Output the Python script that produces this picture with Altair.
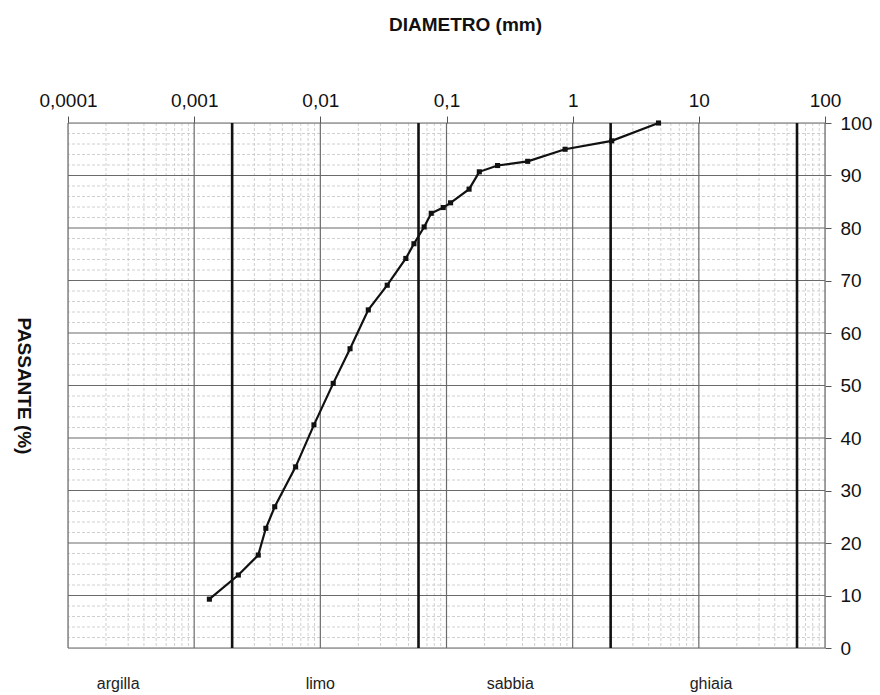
import altair as alt
import pandas as pd

# --- data ---
diametro = [0.00132, 0.00224, 0.00322, 0.0037, 0.00435, 0.00637, 0.0089, 0.01265,
            0.0172, 0.024, 0.0339, 0.0476, 0.0552, 0.0665, 0.0757, 0.0942, 0.1077,
            0.151, 0.182, 0.254, 0.44, 0.871, 2.04, 4.79]
passante = [9.3, 13.9, 17.7, 22.8, 26.9, 34.5, 42.5, 50.4, 57.0, 64.4, 69.1, 74.2,
            77.0, 80.2, 82.8, 83.9, 84.8, 87.4, 90.7, 91.9, 92.7, 95.0, 96.6, 100.0]

decadi = [0.0001, 0.001, 0.01, 0.1, 1, 10, 100]
minori_x = [m * d for d in decadi[:-1] for m in range(2, 10)]
maggiori_y = list(range(0, 101, 10))
minori_y = [v for v in range(0, 101, 2) if v % 10 != 0]
limiti_classi = [0.002, 0.06, 2, 60]
classi = ["argilla", "limo", "sabbia", "ghiaia"]
classi_pos = [0.00025, 0.01, 0.32, 12.5]

W, H = 757, 525
FONT = "Liberation Sans"

xs = alt.Scale(type="log", domain=[0.0001, 100], nice=False)
ys = alt.Scale(domain=[0, 100], nice=False, zero=True)

df = pd.DataFrame({"d": diametro, "p": passante})

minor_v = alt.Chart(pd.DataFrame({"d": minori_x})).mark_rule(
    color="#c4c4c4", strokeWidth=0.8, strokeDash=[3, 2]
).encode(x=alt.X("d:Q", scale=xs, axis=None))

minor_h = alt.Chart(pd.DataFrame({"p": minori_y})).mark_rule(
    color="#c4c4c4", strokeWidth=0.8, strokeDash=[3, 2]
).encode(y=alt.Y("p:Q", scale=ys, axis=None))

major_v = alt.Chart(pd.DataFrame({"d": decadi})).mark_rule(
    color="#6a6a6a", strokeWidth=1.2
).encode(x=alt.X("d:Q", scale=xs, axis=alt.Axis(
    orient="top", values=decadi, grid=False, domain=False,
    tickSize=7, tickColor="#555", labelPadding=6, labelFlush=False,
    labelExpr="replace(toString(datum.value), '.', ',')",
    labelFont=FONT, labelFontSize=19, labelColor="#111",
    title="DIAMETRO (mm)", titleFont=FONT, titleFontSize=19,
    titleFontWeight="bold", titleColor="#111", titlePadding=57, titleX=397)))

major_h = alt.Chart(pd.DataFrame({"p": maggiori_y})).mark_rule(
    color="#6a6a6a", strokeWidth=1.2
).encode(y=alt.Y("p:Q", scale=ys, axis=alt.Axis(
    orient="right", values=maggiori_y, grid=False, domain=False,
    tickSize=6, tickColor="#555", labelPadding=9, labelFlush=False,
    labelFont=FONT, labelFontSize=19, labelColor="#111", title=None)))

left_title = alt.Chart(pd.DataFrame({"p": [0]})).mark_rule(opacity=0).encode(
    y=alt.Y("p:Q", scale=ys, axis=alt.Axis(
        orient="left", labels=False, ticks=False, domain=False, grid=False,
        title="PASSANTE (%)", titleFont=FONT, titleFontSize=19,
        titleFontWeight="bold", titleColor="#111", titleAngle=90,
        titlePadding=55)))

limiti = alt.Chart(pd.DataFrame({"d": limiti_classi})).mark_rule(
    color="#111", strokeWidth=2.6
).encode(x=alt.X("d:Q", scale=xs, axis=None))

linea = alt.Chart(df).mark_line(color="#111", strokeWidth=2.2).encode(
    x=alt.X("d:Q", scale=xs, axis=None),
    y=alt.Y("p:Q", scale=ys, axis=None))

punti = alt.Chart(df).mark_point(
    shape="square", filled=True, color="#111", size=26, opacity=1
).encode(x=alt.X("d:Q", scale=xs, axis=None),
         y=alt.Y("p:Q", scale=ys, axis=None))

etichette = alt.Chart(pd.DataFrame({"d": classi_pos, "c": classi})).mark_text(
    font=FONT, fontSize=16, color="#222", baseline="middle"
).encode(x=alt.X("d:Q", scale=xs, axis=None), y=alt.value(H + 36), text="c:N")

chart = alt.layer(
    minor_v, minor_h, major_v, major_h, left_title, limiti, linea, punti, etichette
).resolve_axis(x="independent", y="independent").properties(
    width=W, height=H,
    autosize=alt.AutoSizeParams(type="none"),
    padding={"left": 68, "top": 123, "right": 55, "bottom": 47},
).configure_view(stroke="#555", strokeWidth=1.2).configure(background="white")

chart.save("out.html", embed_options={"renderer": "svg", "actions": False})
